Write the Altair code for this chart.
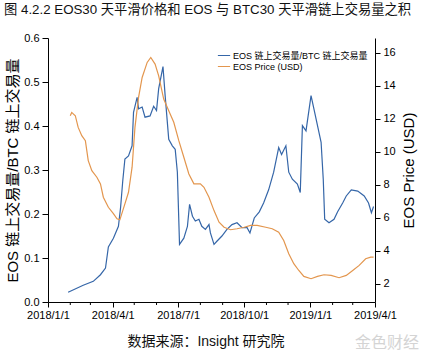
import altair as alt
import pandas as pd

# ---------------- data ----------------
ratio_dates = [
    "2018-01-29", "2018-02-19", "2018-03-05", "2018-03-15", "2018-03-22", "2018-03-26",
    "2018-04-02", "2018-04-09", "2018-04-12", "2018-04-15", "2018-04-18", "2018-04-23",
    "2018-04-28", "2018-04-30", "2018-05-05", "2018-05-07", "2018-05-12", "2018-05-16",
    "2018-05-23", "2018-05-28", "2018-06-01", "2018-06-04", "2018-06-10", "2018-06-13",
    "2018-06-18", "2018-06-23", "2018-06-27", "2018-06-30", "2018-07-03", "2018-07-09",
    "2018-07-14", "2018-07-17", "2018-07-21", "2018-07-25", "2018-07-30", "2018-08-03",
    "2018-08-08", "2018-08-13", "2018-08-15", "2018-08-20", "2018-08-24", "2018-08-31",
    "2018-09-07", "2018-09-14", "2018-09-21", "2018-09-28", "2018-10-05", "2018-10-09",
    "2018-10-15", "2018-10-22", "2018-10-28", "2018-11-04", "2018-11-11", "2018-11-18",
    "2018-11-22", "2018-11-28", "2018-12-02", "2018-12-07", "2018-12-14", "2018-12-18",
    "2018-12-21", "2018-12-26", "2019-01-02", "2019-01-06", "2019-01-11", "2019-01-16",
    "2019-01-19", "2019-01-21", "2019-01-27", "2019-02-03", "2019-02-08", "2019-02-15",
    "2019-02-20", "2019-02-27", "2019-03-08", "2019-03-17", "2019-03-23", "2019-03-27",
    "2019-03-30",
]
ratio_values = [
    0.022, 0.038, 0.047, 0.062, 0.077, 0.125,
    0.145, 0.172, 0.215, 0.275, 0.325, 0.332,
    0.355, 0.431, 0.465, 0.439, 0.443, 0.420,
    0.423, 0.445, 0.435, 0.485, 0.535, 0.469,
    0.370, 0.355, 0.347, 0.295, 0.131, 0.145,
    0.172, 0.222, 0.195, 0.184, 0.188, 0.172,
    0.165, 0.176, 0.157, 0.131, 0.138, 0.150,
    0.165, 0.176, 0.180, 0.169, 0.169, 0.157,
    0.191, 0.205, 0.225, 0.255, 0.295, 0.351,
    0.335, 0.355, 0.295, 0.279, 0.268, 0.249,
    0.401, 0.389, 0.469, 0.439, 0.401, 0.363,
    0.279, 0.188, 0.180, 0.188, 0.205, 0.225,
    0.241, 0.255, 0.252, 0.241, 0.225, 0.203,
    0.217,
]

price_dates = [
    "2018-02-01", "2018-02-03", "2018-02-08", "2018-02-12", "2018-02-17", "2018-02-22",
    "2018-02-26", "2018-03-03", "2018-03-10", "2018-03-15", "2018-03-19", "2018-03-26",
    "2018-04-02", "2018-04-07", "2018-04-11", "2018-04-18", "2018-04-23", "2018-04-28",
    "2018-05-02", "2018-05-07", "2018-05-12", "2018-05-19", "2018-05-24", "2018-05-30",
    "2018-06-04", "2018-06-11", "2018-06-18", "2018-06-25", "2018-07-02", "2018-07-09",
    "2018-07-16", "2018-07-23", "2018-08-01", "2018-08-06", "2018-08-13", "2018-08-20",
    "2018-08-27", "2018-09-03", "2018-09-12", "2018-09-21", "2018-10-01", "2018-10-10",
    "2018-10-19", "2018-10-31", "2018-11-09", "2018-11-18", "2018-11-25", "2018-12-02",
    "2018-12-09", "2018-12-16", "2018-12-23", "2019-01-02", "2019-01-11", "2019-01-20",
    "2019-01-30", "2019-02-10", "2019-02-20", "2019-03-01", "2019-03-10", "2019-03-19",
    "2019-03-26", "2019-03-30",
]
price_values = [
    12.19, 12.39, 12.19, 11.48, 10.98, 10.68,
    9.47, 8.86, 8.46, 8.06, 7.25, 6.64,
    6.25, 5.94, 5.88, 6.85, 7.55, 9.07,
    11.48, 13.30, 14.51, 15.42, 15.72, 15.32,
    14.61, 13.20, 12.49, 11.79, 10.68, 9.67,
    8.66, 8.06, 8.06, 7.85, 7.25, 6.44,
    5.74, 5.43, 5.28, 5.34, 5.43, 5.54,
    5.54, 5.43, 5.34, 5.13, 4.63, 3.83,
    3.22, 2.81, 2.45, 2.31, 2.45, 2.55,
    2.51, 2.37, 2.51, 2.81, 3.12, 3.52,
    3.62, 3.62,
]

major_ticks = [(2018, 1), (2018, 4), (2018, 7), (2018, 10), (2019, 1), (2019, 4)]
minor_ticks = [
    "2018-02-01", "2018-03-01", "2018-05-01", "2018-06-01", "2018-08-01", "2018-09-01",
    "2018-11-01", "2018-12-01", "2019-02-01", "2019-03-01",
]
ratio_ticks = [0.0, 0.1, 0.2, 0.3, 0.4, 0.5, 0.6]
price_ticks = [2, 4, 6, 8, 10, 12, 14, 16]

SERIES_RATIO = "EOS 链上交易量/BTC 链上交易量"
SERIES_PRICE = "EOS Price (USD)"
TITLE = "图 4.2.2 EOS30 天平滑价格和 EOS 与 BTC30 天平滑链上交易量之积"
SOURCE = "数据来源：Insight 研究院"
WATERMARK = "金色财经"

# ---------------- style ----------------
FONT = "Liberation Sans, Arial, Noto Sans CJK SC"
BLUE = "#3566a8"
ORANGE = "#e3964e"
W, H = 327, 264

ratio_df = pd.DataFrame({"date": ratio_dates, "value": ratio_values, "series": SERIES_RATIO})
price_df = pd.DataFrame({"date": price_dates, "value": price_values, "series": SERIES_PRICE})
minor_df = pd.DataFrame({"date": minor_ticks})

x_scale = alt.Scale(
    type="utc",
    domain=[alt.DateTime(year=2018, month=1, date=1, utc=True),
            alt.DateTime(year=2019, month=4, date=1, utc=True)],
)
x_axis = alt.Axis(
    values=[alt.DateTime(year=y, month=m, date=1, utc=True) for y, m in major_ticks],
    labelExpr="utcyear(datum.value) + '/' + (utcmonth(datum.value) + 1) + '/' + utcdate(datum.value)",
    title=None, grid=False,
    labelFont=FONT, labelFontSize=11, labelColor="black", labelPadding=2,
    labelOverlap=False, labelBound=False, labelFlush=False,
    tickSize=5, tickColor="black", domainColor="black",
)

color = alt.Color(
    "series:N",
    scale=alt.Scale(domain=[SERIES_RATIO, SERIES_PRICE], range=[BLUE, ORANGE]),
    legend=alt.Legend(
        orient="none", legendX=169, legendY=12, title=None, padding=0,
        symbolType="stroke", symbolSize=150, symbolStrokeWidth=1.2,
        labelFont=FONT, labelFontSize=9, labelColor="black", labelOffset=2,
        rowPadding=0, clipHeight=11,
    ),
)

ratio_line = alt.Chart(ratio_df).mark_line(strokeWidth=1.2).encode(
    x=alt.X("date:T", scale=x_scale, axis=x_axis),
    y=alt.Y("value:Q", scale=alt.Scale(domain=[0, 0.6], nice=False),
            axis=alt.Axis(values=ratio_ticks, format=".1f", title=SERIES_RATIO,
                          grid=False, orient="left",
                          labelFont=FONT, labelFontSize=11, labelColor="black",
                          labelPadding=3, tickSize=6, tickColor="black",
                          domainColor="black", titleFont=FONT, titleFontSize=15,
                          titleFontWeight="normal", titleColor="black",
                          titlePadding=3)),
    color=color,
)

price_line = alt.Chart(price_df).mark_line(strokeWidth=1.2).encode(
    x=alt.X("date:T", scale=x_scale, axis=x_axis),
    y=alt.Y("value:Q", scale=alt.Scale(domain=[0.9, 16.9], nice=False),
            axis=alt.Axis(values=price_ticks, title=SERIES_PRICE, grid=False,
                          orient="right",
                          labelFont=FONT, labelFontSize=11, labelColor="black",
                          labelPadding=3, tickSize=5, tickColor="black",
                          domainColor="black", titleFont=FONT, titleFontSize=15,
                          titleFontWeight="normal", titleColor="black",
                          titleAngle=270, titleBaseline="top", titlePadding=6)),
    color=color,
)

minor = alt.Chart(minor_df).mark_rule(color="black", strokeWidth=1).encode(
    x=alt.X("date:T", scale=x_scale, axis=x_axis),
    y=alt.value(H),
    y2=alt.value(H + 3),
)

one = pd.DataFrame({"t": [0]})
title_text = alt.Chart(one).mark_text(
    text=TITLE, align="left", baseline="middle", font=FONT, fontSize=13.3, color="#111"
).encode(x=alt.value(-44), y=alt.value(-28))
source_text = alt.Chart(one).mark_text(
    text=SOURCE, align="center", baseline="middle", font=FONT, fontSize=14, color="#111"
).encode(x=alt.value(158), y=alt.value(304))
wm_text = alt.Chart(one).mark_text(
    text=WATERMARK, align="center", baseline="middle", font=FONT, fontSize=16, color="#d4d4d4"
).encode(x=alt.value(339), y=alt.value(305))

chart = alt.layer(
    ratio_line, price_line, minor, title_text, source_text, wm_text
).resolve_scale(
    y="independent"
).properties(
    width=W, height=H,
    autosize=alt.AutoSizeParams(type="none"),
    padding={"left": 48, "top": 38, "right": 426 - 48 - W, "bottom": 354 - 38 - H},
    background="white",
).configure_view(stroke=None)

chart.save("out.html", embed_options={"renderer": "svg", "actions": False})
